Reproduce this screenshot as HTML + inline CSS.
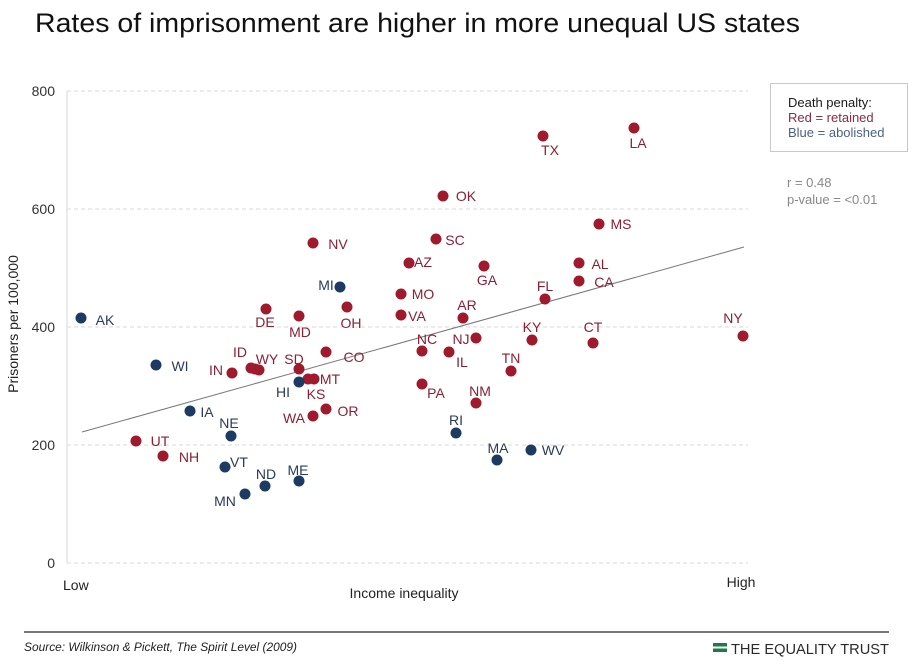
<!DOCTYPE html>
<html><head><meta charset="utf-8"><style>
html,body{margin:0;padding:0;background:#fff;}
svg{display:block;font-family:"Liberation Sans",sans-serif;}
</style></head><body>
<svg width="915" height="665" viewBox="0 0 915 665" xmlns="http://www.w3.org/2000/svg">
<rect width="915" height="665" fill="#fff"/>
<text x="35" y="32" font-size="27" fill="#111" textLength="765" lengthAdjust="spacingAndGlyphs">Rates of imprisonment are higher in more unequal US states</text>

<g stroke="#d8d8dc" stroke-width="1" stroke-dasharray="4,3">
<line x1="67" y1="91" x2="748" y2="91"/>
<line x1="67" y1="209" x2="748" y2="209"/>
<line x1="67" y1="327" x2="748" y2="327"/>
<line x1="67" y1="445" x2="748" y2="445"/>
<line x1="67" y1="563" x2="748" y2="563"/>
</g>
<line x1="67" y1="91" x2="67" y2="563" stroke="#e4e4ea" stroke-width="1.5"/>

<g font-size="14" fill="#333" text-anchor="end">
<text x="55" y="96">800</text>
<text x="55" y="214">600</text>
<text x="55" y="332">400</text>
<text x="55" y="450">200</text>
<text x="55" y="568">0</text>
</g>
<text transform="translate(18,324) rotate(-90)" font-size="14" fill="#222" text-anchor="middle">Prisoners per 100,000</text>
<text x="63" y="590" font-size="14" fill="#222">Low</text>
<text x="741" y="587" font-size="14" fill="#222" text-anchor="middle">High</text>
<text x="404" y="598" font-size="14" fill="#222" text-anchor="middle">Income inequality</text>

<line x1="82" y1="432" x2="744" y2="247" stroke="#777" stroke-width="1"/>

<g fill="#9e1a2c">
<circle cx="543" cy="136" r="5.5"/><circle cx="634" cy="128" r="5.5"/><circle cx="443" cy="196" r="5.5"/>
<circle cx="599" cy="224" r="5.5"/><circle cx="313" cy="243" r="5.5"/><circle cx="436" cy="239" r="5.5"/>
<circle cx="409" cy="263" r="5.5"/><circle cx="484" cy="266" r="5.5"/><circle cx="579" cy="263" r="5.5"/>
<circle cx="579" cy="281" r="5.5"/><circle cx="545" cy="299" r="5.5"/><circle cx="401" cy="294" r="5.5"/>
<circle cx="401" cy="315" r="5.5"/><circle cx="463" cy="318" r="5.5"/><circle cx="347" cy="307" r="5.5"/>
<circle cx="266" cy="309" r="5.5"/><circle cx="299" cy="316" r="5.5"/><circle cx="532" cy="340" r="5.5"/>
<circle cx="593" cy="343" r="5.5"/><circle cx="743" cy="336" r="5.5"/><circle cx="422" cy="351" r="5.5"/>
<circle cx="476" cy="338" r="5.5"/><circle cx="449" cy="352" r="5.5"/><circle cx="511" cy="371" r="5.5"/>
<circle cx="326" cy="352" r="5.5"/><circle cx="232" cy="373" r="5.5"/><circle cx="251" cy="368" r="5.5"/>
<circle cx="255" cy="369" r="5.5"/><circle cx="259" cy="370" r="5.5"/><circle cx="299" cy="369" r="5.5"/>
<circle cx="308" cy="379" r="5.5"/><circle cx="314" cy="379" r="5.5"/><circle cx="326" cy="409" r="5.5"/>
<circle cx="313" cy="416" r="5.5"/><circle cx="422" cy="384" r="5.5"/><circle cx="476" cy="403" r="5.5"/>
<circle cx="136" cy="441" r="5.5"/><circle cx="163" cy="456" r="5.5"/>
</g>
<g fill="#1d3a62">
<circle cx="81" cy="318" r="5.5"/><circle cx="156" cy="365" r="5.5"/><circle cx="340" cy="287" r="5.5"/>
<circle cx="299" cy="382" r="5.5"/><circle cx="190" cy="411" r="5.5"/><circle cx="231" cy="436" r="5.5"/>
<circle cx="225" cy="467" r="5.5"/><circle cx="265" cy="486" r="5.5"/><circle cx="299" cy="481" r="5.5"/>
<circle cx="245" cy="494" r="5.5"/><circle cx="456" cy="433" r="5.5"/><circle cx="497" cy="460" r="5.5"/>
<circle cx="531" cy="450" r="5.5"/>
</g>

<g font-size="14" fill="#8a2036" text-anchor="middle">
<text x="550" y="155">TX</text><text x="638" y="148">LA</text><text x="466" y="201">OK</text>
<text x="621" y="229">MS</text><text x="338" y="249">NV</text><text x="455" y="245">SC</text>
<text x="423" y="267">AZ</text><text x="487" y="285">GA</text><text x="600" y="269">AL</text>
<text x="604" y="287">CA</text><text x="545" y="291">FL</text><text x="423" y="299">MO</text>
<text x="417" y="321">VA</text><text x="467" y="310">AR</text><text x="351" y="328">OH</text>
<text x="265" y="327">DE</text><text x="300" y="337">MD</text><text x="532" y="332">KY</text>
<text x="593" y="332">CT</text><text x="733" y="323">NY</text><text x="427" y="344">NC</text>
<text x="461" y="344">NJ</text><text x="462" y="367">IL</text><text x="511" y="363">TN</text>
<text x="354" y="362">CO</text><text x="216" y="375">IN</text><text x="240" y="357">ID</text>
<text x="267" y="364">WY</text><text x="294" y="364">SD</text><text x="330" y="384">MT</text>
<text x="316" y="399">KS</text><text x="348" y="416">OR</text><text x="294" y="423">WA</text>
<text x="436" y="398">PA</text><text x="480" y="396">NM</text><text x="160" y="446">UT</text>
<text x="189" y="462">NH</text>
</g>
<g font-size="14" fill="#2b3b58" text-anchor="middle">
<text x="105" y="325">AK</text><text x="180" y="371">WI</text><text x="326" y="290">MI</text>
<text x="283" y="397">HI</text><text x="207" y="417">IA</text><text x="229" y="428">NE</text>
<text x="239" y="467">VT</text><text x="266" y="479">ND</text><text x="298" y="475">ME</text>
<text x="225" y="506">MN</text><text x="456" y="425">RI</text><text x="498" y="453">MA</text>
<text x="553" y="455">WV</text>
</g>

<rect x="770.5" y="83.5" width="137" height="68" fill="#fff" stroke="#c8c8cc" stroke-width="1"/>
<text x="788" y="107" font-size="13" fill="#1a1a1a">Death penalty:</text>
<text x="788" y="122" font-size="13" fill="#8a2a44">Red  = retained</text>
<text x="788" y="137" font-size="13" fill="#4d6185">Blue = abolished</text>
<text x="787" y="187" font-size="13" fill="#888">r = 0.48</text>
<text x="787" y="204" font-size="13" fill="#888">p-value = &lt;0.01</text>

<line x1="24" y1="632" x2="889" y2="632" stroke="#777" stroke-width="2"/>
<text x="24" y="651" font-size="12" font-style="italic" fill="#222" textLength="273" lengthAdjust="spacingAndGlyphs">Source: Wilkinson &amp; Pickett, The Spirit Level (2009)</text>
<rect x="713" y="643" width="14" height="3.5" fill="#1e7a4a"/>
<rect x="713" y="648.5" width="14" height="3.5" fill="#1e7a4a"/>
<text x="731" y="654" font-size="15" fill="#2a2a2a" textLength="158" lengthAdjust="spacingAndGlyphs">THE EQUALITY TRUST</text>
</svg>
</body></html>
